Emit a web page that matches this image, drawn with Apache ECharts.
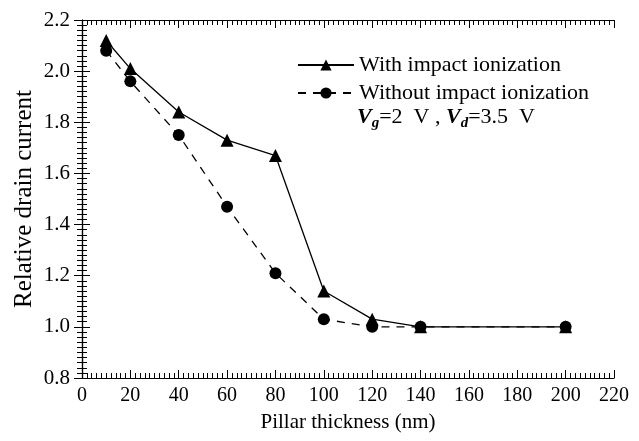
<!DOCTYPE html>
<html>
<head>
<meta charset="utf-8">
<script src="https://cdn.jsdelivr.net/npm/echarts@6/dist/echarts.min.js"></script>
<style>
  html, body { margin: 0; padding: 0; background: #fff; }
  #chart { width: 639px; height: 441px; }
</style>
</head>
<body>
<div id="chart"></div>
<script>
// pillar thickness (nm)
var thickness = [10, 20, 40, 60, 80, 100, 120, 140, 200];
// relative drain current
var withImpact = [2.12, 2.01, 1.84, 1.73, 1.67, 1.14, 1.03, 1.0, 1.0];
var withoutImpact = [2.08, 1.96, 1.75, 1.47, 1.21, 1.03, 1.0, 1.0, 1.0];
var seriesNames = ["With impact ionization", "Without impact ionization"];

function pairs(xs, ys) {
  var out = [];
  for (var i = 0; i < xs.length; i++) {
    out.push([xs[i], ys[i]]);
  }
  return out;
}

var font = "Liberation Serif";
var myChart = echarts.init(document.getElementById("chart"));

// common tick settings, box frame with inside ticks
function boxAxis(extra) {
  var base = {
    type: "value",
    axisLine: { show: true, lineStyle: { color: "#000", width: 1.2 } },
    axisTick: { show: true, inside: true, length: 8, lineStyle: { color: "#000", width: 1 } },
    minorTick: { show: true, splitNumber: 10, length: 5, lineStyle: { color: "#000", width: 1 } },
    splitLine: { show: false },
    minorSplitLine: { show: false }
  };
  return Object.assign(base, extra);
}

var option = {
  animation: false,
  grid: { left: 82, right: 25, top: 20, bottom: 63 },
  legend: {
    orient: "vertical",
    left: 292,
    top: 49,
    itemWidth: 56,
    itemHeight: 14,
    itemGap: 6,
    textStyle: { fontFamily: font, fontSize: 22, color: "#000" },
    data: seriesNames
  },
  graphic: [
    {
      type: "text",
      left: 357,
      top: 106,
      style: {
        text: "{v|V}{s|g}{n|=2  V , }{v|V}{s|d}{n|=3.5  V}",
        rich: {
          v: { fontFamily: font, fontSize: 22, fontStyle: "italic", fontWeight: "bold", fill: "#000" },
          s: { fontFamily: font, fontSize: 15, fontStyle: "italic", fontWeight: "bold", fill: "#000", padding: [12, 0, 0, 0] },
          n: { fontFamily: font, fontSize: 22, fill: "#000" }
        }
      }
    }
  ],
  xAxis: [
    boxAxis({
      min: 0,
      max: 220,
      interval: 20,
      name: "Pillar thickness (nm)",
      nameLocation: "middle",
      nameGap: 34,
      nameMoveOverlap: false,
      nameTextStyle: { fontFamily: font, fontSize: 21, color: "#000" },
      axisLabel: { fontFamily: font, fontSize: 20, color: "#000", margin: 8 }
    }),
    boxAxis({
      min: 0,
      max: 220,
      interval: 20,
      position: "top",
      axisLabel: { show: false }
    })
  ],
  yAxis: [
    boxAxis({
      min: 0.8,
      max: 2.2,
      interval: 0.2,
      name: "Relative drain current",
      nameLocation: "middle",
      nameGap: 45,
      nameMoveOverlap: false,
      nameTextStyle: { fontFamily: font, fontSize: 25, color: "#000" },
      axisLabel: {
        fontFamily: font,
        fontSize: 21,
        color: "#000",
        margin: 12,
        formatter: function(v) {
          return v.toFixed(1);
        }
      }
    }),
    boxAxis({
      min: 0.8,
      max: 2.2,
      interval: 0.2,
      position: "right",
      axisLabel: { show: false }
    })
  ],
  series: [
    {
      name: seriesNames[0],
      type: "line",
      data: pairs(thickness, withImpact),
      symbol: "triangle",
      symbolSize: 13,
      itemStyle: { color: "#000" },
      lineStyle: { color: "#000", width: 1.3 },
      z: 3
    },
    {
      name: seriesNames[1],
      type: "line",
      data: pairs(thickness, withoutImpact),
      symbol: "circle",
      symbolSize: 12,
      itemStyle: { color: "#000" },
      lineStyle: { color: "#000", width: 1.3, type: [8, 7] },
      z: 2
    }
  ]
};

myChart.setOption(option);
</script>
</body>
</html>
